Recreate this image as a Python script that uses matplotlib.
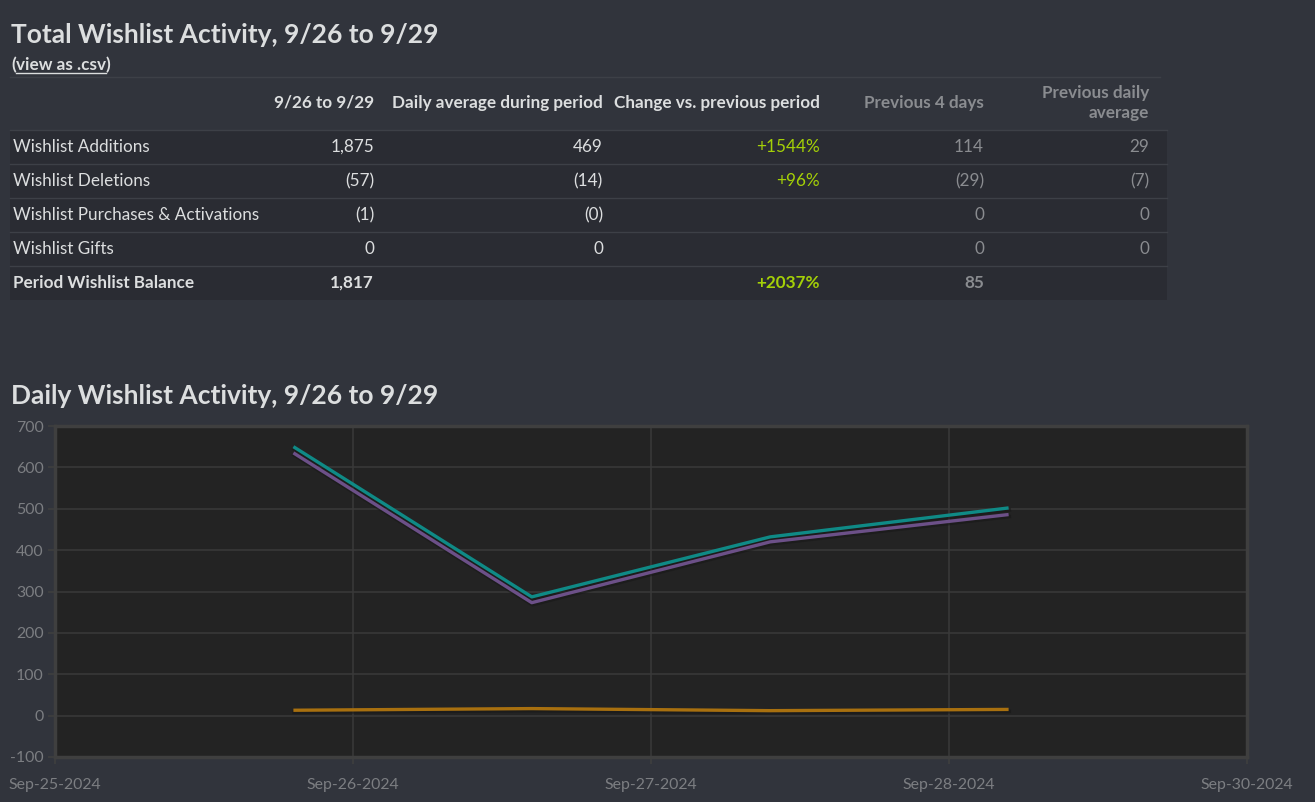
import numpy as np
import pandas as pd
import matplotlib
matplotlib.use("Agg")
import matplotlib.pyplot as plt
import matplotlib.dates as mdates
from matplotlib.patches import Rectangle
from matplotlib.lines import Line2D
from matplotlib.transforms import ScaledTranslation

plt.rcParams['font.family'] = ['Lato', 'DejaVu Sans']
plt.rcParams['axes.unicode_minus'] = False

# Datos de la tabla
row_labels = ["Wishlist Additions", "Wishlist Deletions", "Wishlist Purchases & Activations",
              "Wishlist Gifts", "Period Wishlist Balance"]
col_headers = ["9/26 to 9/29", "Daily average during period", "Change vs. previous period",
               "Previous 4 days", "Previous daily\naverage"]
col_period = ["1,875", "(57)", "(1)", "0", "1,817"]
col_daily = ["469", "(14)", "(0)", "0", ""]
col_change = ["+1544%", "+96%", "", "", "+2037%"]
col_prev = ["114", "(29)", "0", "0", "85"]
col_prev_daily = ["29", "(7)", "0", "0", ""]

# Datos del gráfico diario
days = pd.to_datetime(["2024-09-26", "2024-09-27", "2024-09-28", "2024-09-29"])
additions = [650, 287, 432, 502]
balance = [635, 273, 420, 486]
deletions = [13, 17, 12, 15]
x_ticks = pd.to_datetime(["2024-09-25 00:00", "2024-09-26 06:00", "2024-09-27 12:00",
                          "2024-09-28 18:00", "2024-09-30 00:00"])
y_ticks = [-100, 0, 100, 200, 300, 400, 500, 600, 700]

W, H = 1315, 802
BG = "#31343c"
ROW_BG = "#2a2c33"
SEP = "#3d4047"
TXT = "#dcdedf"
MUTED = "#8a8c90"
GREEN = "#a4d007"
FS = 12.3

fig = plt.figure(figsize=(W / 100, H / 100), dpi=100, facecolor=BG)


def px(x, y):
    return x / W, 1 - y / H


# Títulos
fig.text(*px(11, 35), "Total Wishlist Activity, 9/26 to 9/29", color=TXT, fontsize=19,
         fontweight='bold', va='center', ha='left')
fig.text(*px(11, 65), "(", color=TXT, fontsize=FS, fontweight='bold', va='center', ha='left')
link = fig.text(*px(16, 65), "view as .csv", color=TXT, fontsize=FS, fontweight='bold',
                va='center', ha='left')
fig.canvas.draw()
bb = link.get_window_extent()
fig.text(bb.x1 / W, px(0, 65)[1], ")", color=TXT, fontsize=FS, fontweight='bold',
         va='center', ha='left')
fig.add_artist(Line2D([bb.x0 / W, bb.x1 / W], [px(0, 73)[1]] * 2, color=TXT, lw=1))

# Tabla
table_l, table_r = 10, 1167
fig.add_artist(Line2D([px(table_l, 0)[0], px(1160, 0)[0]], [px(0, 77)[1]] * 2, color=SEP, lw=1))
row_top = 130
row_h = 34
for i in range(len(row_labels)):
    y0 = row_top + i * row_h
    fig.add_artist(Rectangle(px(table_l, y0 + row_h), (table_r - table_l) / W, row_h / H,
                             transform=fig.transFigure, facecolor=ROW_BG, edgecolor='none'))
    fig.add_artist(Line2D([px(table_l, 0)[0], px(table_r, 0)[0]], [px(0, y0)[1]] * 2,
                          color=SEP, lw=1))

col_right = [374, 603, 820, 984, 1149]
header_colors = [TXT, TXT, TXT, MUTED, MUTED]
for j, h in enumerate(col_headers):
    fig.text(*px(col_right[j], 103), h, color=header_colors[j], fontsize=FS,
             fontweight='bold', ha='right', va='center', linespacing=1.35)

columns = [col_period, col_daily, col_change, col_prev, col_prev_daily]
for i, lab in enumerate(row_labels):
    yc = row_top + i * row_h + row_h / 2
    bold = 'bold' if i == len(row_labels) - 1 else 'normal'
    fig.text(*px(13, yc), lab, color=TXT, fontsize=FS, fontweight=bold, ha='left', va='center')
    for j, col in enumerate(columns):
        if j == 2:
            c = GREEN
        elif j >= 3:
            c = MUTED
        else:
            c = TXT
        fig.text(*px(col_right[j], yc), col[i], color=c, fontsize=FS, fontweight=bold,
                 ha='right', va='center')

# Gráfico diario
fig.text(*px(11, 396), "Daily Wishlist Activity, 9/26 to 9/29", color=TXT, fontsize=19,
         fontweight='bold', va='center', ha='left')

ax = fig.add_axes([55 / W, 1 - 757 / H, 1192 / W, 331 / H])
ax.set_facecolor("#232323")
for s in ax.spines.values():
    s.set_color("#3f3f3f")
    s.set_linewidth(2.5)

series = [(additions, "#0f8a86"), (balance, "#6c5088"), (deletions, "#a8700f")]
shadow = ax.transData + ScaledTranslation(0.5 / 72, -1.5 / 72, fig.dpi_scale_trans)
for vals, col in series:
    ax.plot(days, vals, color="#161616", lw=2.6, alpha=0.5, zorder=2, transform=shadow)
    ax.plot(days, vals, color=col, lw=2.4, zorder=3, solid_capstyle='butt')

ax.set_xlim(pd.Timestamp("2024-09-25"), pd.Timestamp("2024-09-30"))
ax.set_ylim(-100, 700)
ax.set_xticks(x_ticks)
ax.xaxis.set_major_formatter(mdates.DateFormatter("%b-%d-%Y"))
ax.set_yticks(y_ticks)
ax.grid(True, color="#3a3a3a", lw=1.1)
ax.set_axisbelow(True)
ax.tick_params(axis='both', colors="#3f3f3f", labelcolor="#7c7e82", labelsize=11.4, length=5,
               width=1.2)
ax.tick_params(axis='x', pad=10)
ax.tick_params(axis='y', pad=3)

fig.savefig("out.png", dpi=100, facecolor=BG)
